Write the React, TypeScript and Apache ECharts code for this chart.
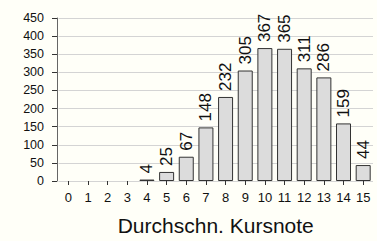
import React, { useEffect, useRef } from "react";
import * as echarts from "echarts";

const categories = ["0", "1", "2", "3", "4", "5", "6", "7", "8", "9", "10", "11", "12", "13", "14", "15"];
const counts = [0, 0, 0, 0, 4, 25, 67, 148, 232, 305, 367, 365, 311, 286, 159, 44];
const yTicks = [0, 50, 100, 150, 200, 250, 300, 350, 400, 450];
const xTitle = "Durchschn. Kursnote";

const FONT = "'Liberation Sans', Arial, Helvetica, sans-serif";
const BG = "#fffff8";

export default function App() {
  const ref = useRef<HTMLDivElement>(null);
  useEffect(() => {
    document.body.style.margin = "0";
    document.body.style.background = BG;
    const chart = echarts.init(ref.current!, undefined, { renderer: "svg" });
    chart.setOption({
      animation: false,
      backgroundColor: BG,
      textStyle: { fontFamily: FONT },
      grid: { left: 58.5, right: 4, top: 18, bottom: 55, containLabel: false },
      xAxis: {
        type: "category",
        data: categories,
        offset: 1,
        axisLine: { show: false },
        axisTick: { show: true, alignWithLabel: true, length: 4, lineStyle: { color: "#333", width: 1 } },
        axisLabel: { color: "#111", fontSize: 13, margin: 9, fontFamily: FONT, interval: 0 },
        name: xTitle,
        nameLocation: "middle",
        nameGap: 33,
        nameTextStyle: { fontSize: 21, color: "#111", fontFamily: FONT },
        splitLine: { show: false },
      },
      yAxis: {
        type: "value",
        min: yTicks[0],
        max: yTicks[yTicks.length - 1],
        interval: 50,
        offset: 1.5,
        axisLine: { show: true, lineStyle: { color: "#666", width: 1 } },
        axisTick: { show: true, length: 5, lineStyle: { color: "#333", width: 1 } },
        axisLabel: { color: "#111", fontSize: 12.5, margin: 13, fontFamily: FONT },
        splitLine: { show: true, lineStyle: { color: "#d4d4d4", width: 1 } },
      },
      series: [
        {
          type: "bar",
          data: counts.map((v) => (v === 0 ? "-" : v)),
          barWidth: 15,
          itemStyle: { color: "#dcdcdc", borderColor: "#333", borderWidth: 1 },
          label: {
            show: true,
            position: "top",
            rotate: 90,
            align: "left",
            verticalAlign: "middle",
            distance: 6,
            fontSize: 17,
            color: "#111",
            fontFamily: FONT,
          },
        },
      ],
    });
    return () => chart.dispose();
  }, []);
  return <div ref={ref} style={{ width: 377, height: 241, background: BG }} />;
}
